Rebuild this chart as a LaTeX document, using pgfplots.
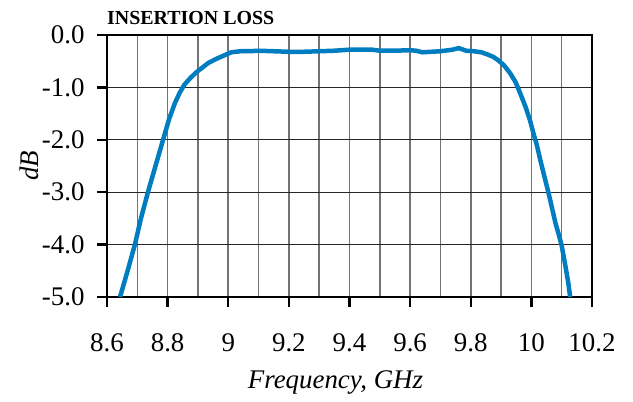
\documentclass[border=0pt]{standalone}
\usepackage{fontspec}
\setmainfont{Liberation Serif}
\usepackage{pgfplots}
\pgfplotsset{compat=1.18}
\definecolor{lossblue}{RGB}{0,125,192}
\begin{document}
\begin{tikzpicture}[x=1bp,y=1bp]
\begin{axis}[
    at={(0bp,0bp)}, anchor=south west,
    scale only axis,
    width=485bp, height=262bp,
    xmin=8.6, xmax=10.2, ymin=-5, ymax=0,
    xtick={8.6,8.8,9,9.2,9.4,9.6,9.8,10,10.2},
    xticklabels={8.6,8.8,9,9.2,9.4,9.6,9.8,10,10.2},
    minor xtick={8.7,8.9,9.1,9.3,9.5,9.7,9.9,10.1},
    ytick={-5,-4,-3,-2,-1,0},
    yticklabels={-5.0,-4.0,-3.0,-2.0,-1.0,0.0},
    tick align=outside,
    tick pos=left,
    major tick length=10bp,
    minor tick length=0pt,
    xmajorgrids, xminorgrids, ymajorgrids,
    x grid style={black!55, line width=1.5bp},
    minor x grid style={black!55, line width=1.5bp},
    y grid style={black!85, line width=1bp},
    major tick style={black, line width=2.5bp},
    axis line style={black, line width=2.5bp},
    ticklabel style={font=\fontsize{27}{31}\selectfont},
    xticklabel style={yshift=-23bp},
    yticklabel style={xshift=-9bp},
    xlabel={\textit{Frequency, GHz}},
    ylabel={\textit{dB}},
    label style={font=\fontsize{27}{31}\selectfont},
    xlabel style={yshift=-12bp, xshift=-14bp},
    ylabel style={yshift=-4bp},
    title={\textbf{INSERTION LOSS}},
    title style={at={(rel axis cs:0,1)}, anchor=base west, yshift=5bp, xshift=0bp, inner sep=0pt,
      font=\fontsize{20}{22}\selectfont},
    clip=true,
]
\addplot[lossblue, line width=4.5bp, line join=round] coordinates {
(8.643,-5.0) (8.668,-4.5) (8.692,-4.0) (8.712,-3.5) (8.735,-3.0)
(8.760,-2.5) (8.785,-2.0) (8.805,-1.6) (8.824,-1.3) (8.840,-1.1)
(8.855,-0.95) (8.875,-0.82) (8.897,-0.70) (8.915,-0.62) (8.935,-0.53)
(8.963,-0.45) (8.990,-0.38) (9.010,-0.33) (9.040,-0.31) (9.070,-0.31)
(9.100,-0.30) (9.150,-0.31) (9.200,-0.32) (9.250,-0.32) (9.300,-0.31)
(9.350,-0.30) (9.400,-0.28) (9.450,-0.28) (9.475,-0.28) (9.500,-0.30)
(9.550,-0.30) (9.600,-0.29) (9.620,-0.30) (9.640,-0.33) (9.670,-0.32)
(9.700,-0.31) (9.740,-0.28) (9.760,-0.25) (9.785,-0.30) (9.810,-0.31)
(9.835,-0.33) (9.855,-0.37) (9.875,-0.42) (9.890,-0.48) (9.910,-0.58)
(9.930,-0.73) (9.948,-0.90) (9.963,-1.11) (9.980,-1.36) (9.995,-1.62)
(10.008,-1.90) (10.018,-2.10) (10.030,-2.40) (10.043,-2.70) (10.056,-3.00)
(10.068,-3.30) (10.080,-3.60) (10.090,-3.80) (10.100,-4.02) (10.112,-4.40)
(10.121,-4.70) (10.128,-5.00)
};
\end{axis}
\path (-107bp,-105bp) rectangle (526bp,297bp);
\end{tikzpicture}
\end{document}
